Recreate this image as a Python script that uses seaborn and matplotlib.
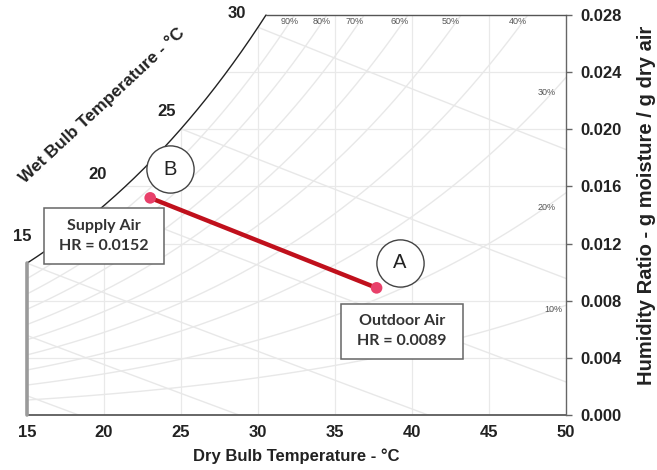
import numpy as np
import pandas as pd
import matplotlib
matplotlib.use("Agg")
import matplotlib.pyplot as plt
import seaborn as sns
from matplotlib.patches import Polygon, Rectangle

# ---------------- data ----------------
point_labels = ["B", "A"]
point_names = ["Supply Air", "Outdoor Air"]
dry_bulb = [23.0, 37.7]
humidity_ratio = [0.0152, 0.0089]

x_ticks = [15, 20, 25, 30, 35, 40, 45, 50]
y_ticks = [0.000, 0.004, 0.008, 0.012, 0.016, 0.020, 0.024, 0.028]
rh_levels = [0.1, 0.2, 0.3, 0.4, 0.5, 0.6, 0.7, 0.8, 0.9]
rh_top_labels = ["90%", "80%", "70%", "60%", "50%", "40%"]
rh_side_labels = ["30%", "20%", "10%"]
wet_bulb_levels = [5, 10, 15, 20, 25, 30]
wb_labels = ["15", "20", "25", "30"]

# ---------------- style ----------------
sns.set_style("white")
plt.rcParams["font.family"] = ["Liberation Sans", "DejaVu Sans"]

fig = plt.figure(figsize=(6.57, 4.70), dpi=100)
ax = fig.add_axes([27 / 657, 55 / 470, 539 / 657, 400 / 470])
ax.set_xlim(15, 50)
ax.set_ylim(0, 0.028)

P = 101.325


def pws(t):
    return 0.61094 * np.exp(17.625 * t / (t + 243.04))


def w_rh(t, phi=1.0):
    p = phi * pws(t)
    return 0.622 * p / (P - p)


def w_wb(t, twb):
    ws = w_rh(twb)
    return ((2501 - 2.326 * twb) * ws - 1.006 * (t - twb)) / (2501 + 1.86 * t - 4.186 * twb)


tgrid = np.linspace(15, 50, 800)
wsat = w_rh(tgrid)
t_top = np.interp(0.028, wsat, tgrid)
ts = tgrid[tgrid <= t_top]
ts = np.append(ts, t_top)
sat_w = w_rh(ts)

verts = [(15, 0)] + list(zip(ts, sat_w)) + [(50, 0.028), (50, 0)]
clip = Polygon(verts, closed=True, transform=ax.transData,
               facecolor="none", edgecolor="none")
ax.add_patch(clip)

grid_c = "#e9e9e9"
gl1 = ax.vlines(x_ticks[1:-1], 0, 0.028, colors=grid_c, lw=0.9, zorder=1)
gl2 = ax.hlines(y_ticks[1:-1], 15, 50, colors=grid_c, lw=0.9, zorder=1)
gl1.set_clip_path(clip)
gl2.set_clip_path(clip)

line_c = "#e8e8e8"
for phi in rh_levels:
    ln, = ax.plot(tgrid, w_rh(tgrid, phi), color=line_c, lw=1.0, zorder=1)
    ln.set_clip_path(clip)
for twb in wet_bulb_levels:
    tt = np.linspace(max(15, twb), 50, 200)
    ln, = ax.plot(tt, w_wb(tt, twb), color=line_c, lw=1.0, zorder=1)
    ln.set_clip_path(clip)

# boundaries
ax.plot(ts, sat_w, color="#222222", lw=1.0, clip_on=False, zorder=3)
ax.plot([t_top, 50], [0.028, 0.028], color="#555555", lw=1.0, clip_on=False, zorder=3)
ax.plot([15, 15], [0, w_rh(15)], color="#9a9a9a", lw=2.6, clip_on=False, zorder=3)

# process line and points
df = pd.DataFrame({"T": dry_bulb, "W": humidity_ratio, "label": point_labels})
sns.lineplot(data=df, x="T", y="W", color="#C0101C", lw=3.2, ax=ax,
             sort=False, estimator=None, zorder=5)
sns.scatterplot(data=df, x="T", y="W", color="#E8406A", s=70, ax=ax,
                edgecolor="none", zorder=6)

# circle labels
circ_pos = {"B": (24.29, 0.01719), "A": (39.22, 0.01067)}
for lab in point_labels:
    cx, cy = circ_pos[lab]
    ax.plot([cx], [cy], marker="o", markersize=34, markerfacecolor="white",
            markeredgecolor="#444444", markeredgewidth=1.0, zorder=7, clip_on=False)
    ax.text(cx, cy, lab, ha="center", va="center", fontsize=14.5,
            color="#222222", zorder=8)

# boxes (x0, x1, y0, y1)
box_rects = [(16.10, 23.90, 0.01060, 0.01446), (35.39, 43.31, 0.00393, 0.00779)]
for name, w, (x0, x1, y0, y1) in zip(point_names, humidity_ratio, box_rects):
    ax.add_patch(Rectangle((x0, y0), x1 - x0, y1 - y0, facecolor="white",
                           edgecolor="#666666", lw=1.1, zorder=9, clip_on=False))
    ax.text((x0 + x1) / 2, (y0 + y1) / 2, f"{name}\nHR = {w:.4f}", ha="center",
            va="center", fontsize=11.5, fontweight="bold",
            family=["Lato", "DejaVu Sans"], color="#333333", linespacing=1.55,
            zorder=10, clip_on=False)

# wet bulb labels
wb_pos = [(14.68, 0.01249), (19.61, 0.01684), (24.09, 0.02126), (28.64, 0.02807)]
for lab, (x, y) in zip(wb_labels, wb_pos):
    ax.text(x, y, lab, ha="center", va="center", fontsize=12,
            fontweight="bold", color="#222222", clip_on=False)
ax.text(19.87, 0.02168, "Wet Bulb Temperature - °C", ha="center", va="center",
        rotation=43, fontsize=12.5, fontweight="bold", color="#222222",
        rotation_mode="anchor", clip_on=False)

# RH labels
rh_top_pos = [32.08, 34.16, 36.30, 39.22, 42.53, 46.88]
for lab, x in zip(rh_top_labels, rh_top_pos):
    ax.text(x, 0.02751, lab, ha="center", va="center", fontsize=6.5,
            color="#555555")
rh_side_pos = [(48.77, 0.0226), (48.77, 0.01453), (49.16, 0.00737)]
for lab, (x, y) in zip(rh_side_labels, rh_side_pos):
    ax.text(x, y, lab, ha="center", va="center", fontsize=6.5, color="#555555")

# axes
for s in ["left", "top"]:
    ax.spines[s].set_visible(False)
ax.spines["bottom"].set_color("#666666")
ax.spines["bottom"].set_linewidth(1.4)
ax.spines["right"].set_color("#666666")
ax.spines["right"].set_linewidth(1.0)
ax.yaxis.tick_right()
ax.set_xticks(x_ticks)
ax.set_xticklabels([str(v) for v in x_ticks])
ax.set_yticks(y_ticks)
ax.set_yticklabels([f"{v:.3f}" for v in y_ticks])
ax.tick_params(axis="x", direction="inout", length=6, width=1, color="#666666",
               labelsize=12, labelcolor="#222222", pad=4)
ax.tick_params(axis="y", direction="out", length=4, width=1, color="#666666",
               labelsize=12, labelcolor="#222222", pad=6, right=True, left=False)
for lbl in ax.get_xticklabels() + ax.get_yticklabels():
    lbl.set_fontweight("bold")
ax.set_xlabel("Dry Bulb Temperature - °C", fontsize=12, fontweight="bold",
              color="#222222", labelpad=6)
ax.set_ylabel("")
fig.text(646 / 657, 85 / 470, "Humidity Ratio - g moisture / g dry air",
         rotation=90, ha="center", va="bottom", fontsize=14.5,
         fontweight="bold", color="#222222")

fig.savefig("out.png", dpi=100)
